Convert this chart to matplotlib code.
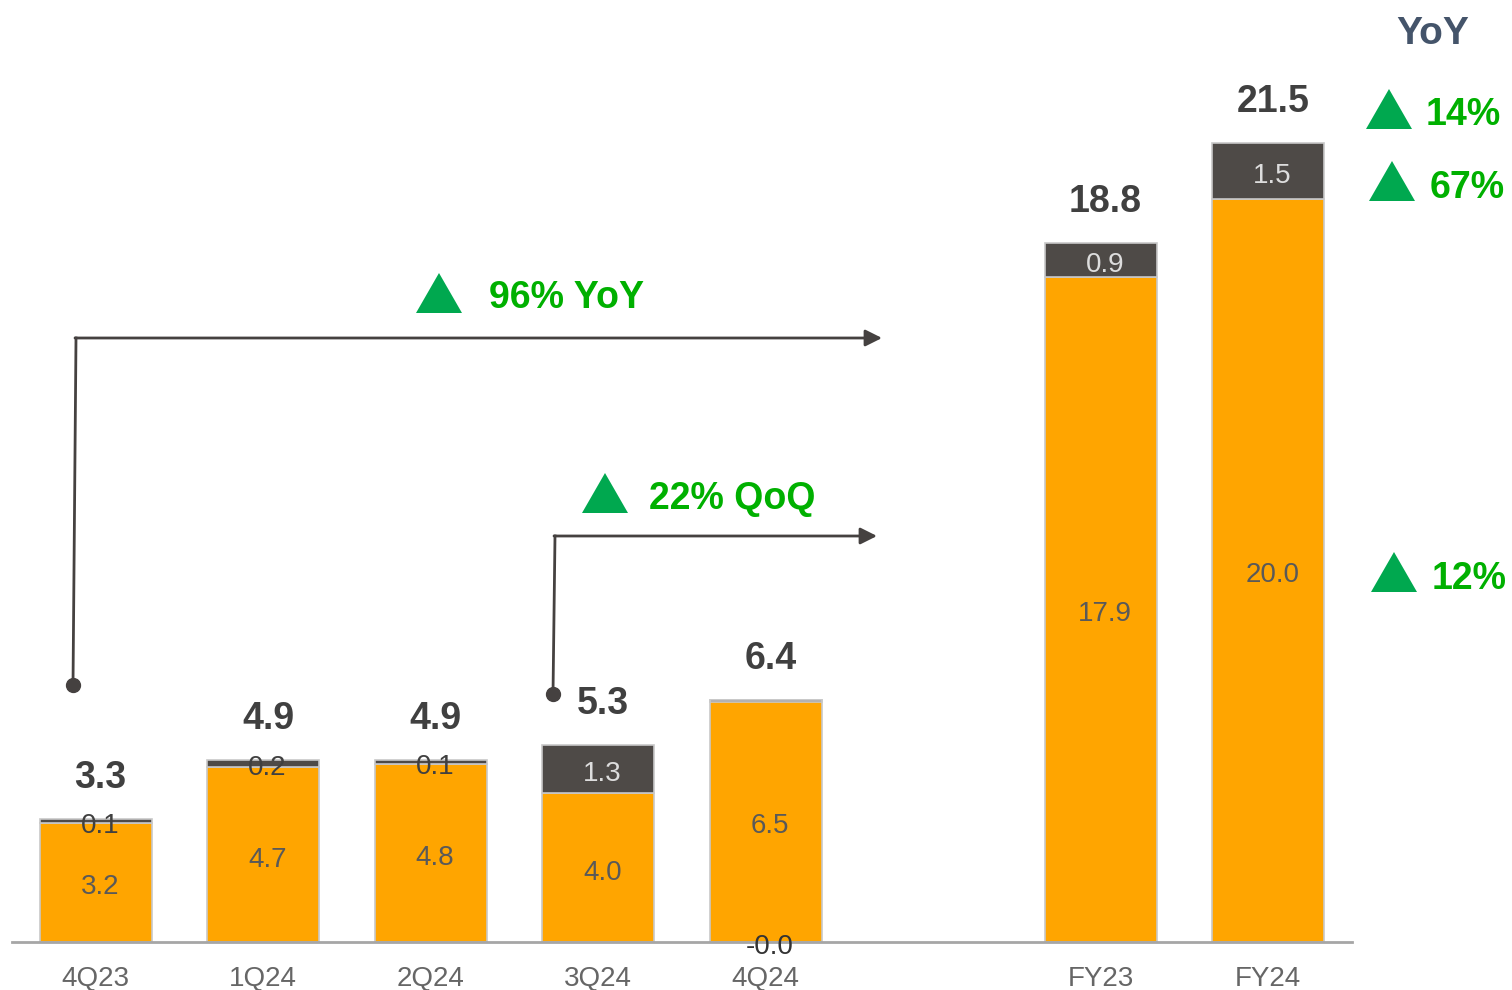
import matplotlib
matplotlib.use("Agg")
import matplotlib.pyplot as plt
from matplotlib.patches import Polygon
import numpy as np

plt.rcParams['font.family'] = ['Liberation Sans', 'DejaVu Sans']

# ---- data ----
categories = ["4Q23", "1Q24", "2Q24", "3Q24", "4Q24", "FY23", "FY24"]
positions = [0, 1, 2, 3, 4, 6, 7]
orange_vals = [3.2, 4.7, 4.8, 4.0, 6.5, 17.9, 20.0]
gray_vals = [0.1, 0.2, 0.1, 1.3, -0.04, 0.9, 1.5]
totals = [3.3, 4.9, 4.9, 5.3, 6.4, 18.8, 21.5]
yoy_labels = ["14%", "67%", "12%"]
qoq_label = "22% QoQ"
yoy_q_label = "96% YoY"

ORANGE = "#FFA500"
DARK = "#4E4A47"
EDGE = "#C8C8C8"
GREEN_TXT = "#00B000"
GREEN_TRI = "#00A84F"
W, H = 1512, 990

fig = plt.figure(figsize=(W / 100, H / 100), dpi=100)
ax = fig.add_axes([12 / W, (H - 942) / H, 1340 / W, 942 / H])
ax.set_xlim(-0.5, 7.5)
ax.set_ylim(0, 942 / 37.16)

bw = 0.67
ax.bar(positions, orange_vals, width=bw, color=ORANGE, edgecolor=EDGE, linewidth=1.2, zorder=2)
ax.bar(positions, gray_vals, width=bw, bottom=orange_vals, color=DARK, edgecolor=EDGE, linewidth=1.2, zorder=2)

SEG_FS = 20
DX = 3
for x, o, g, t in zip(positions, orange_vals, gray_vals, totals):
    ax.annotate(f"{o:.1f}", xy=(x, o / 2), xytext=(DX, -3.5), textcoords="offset points",
                ha="center", va="center", fontsize=SEG_FS, color="#595959", zorder=4)
    if abs(g) < 0.05:
        gy = 0.0
        col = "#333333"
    else:
        gy = o + g / 2
        col = "#404040" if abs(g) < 0.5 else "#DDDDDD"
    ax.annotate(f"{g:.1f}", xy=(x, gy), xytext=(DX, -3.5), textcoords="offset points",
                ha="center", va="center", fontsize=SEG_FS, color=col, zorder=4)
    top = o + max(g, 0)
    ax.annotate(f"{t:.1f}", xy=(x, top), xytext=(DX + 0.5, 29.5), textcoords="offset points",
                ha="center", va="center", fontsize=27, fontweight="bold", color="#404040", zorder=4)

ax.set_xticks(positions)
ax.set_xticklabels(categories, fontsize=20, color="#666666")
ax.tick_params(axis="x", length=0, pad=17)
ax.set_yticks([])
for s in ["top", "right", "left"]:
    ax.spines[s].set_visible(False)
ax.spines["bottom"].set_color("#A6A6A6")
ax.spines["bottom"].set_linewidth(2)
ax.set_facecolor("none")

# ---- overlay in pixel coordinates for annotations ----
ov = fig.add_axes([0, 0, 1, 1], zorder=5)
ov.set_xlim(0, W)
ov.set_ylim(H, 0)
ov.axis("off")
ov.set_facecolor("none")

def tri(cx, cy, w=46, h=40):
    ov.add_patch(Polygon([(cx - w / 2, cy + h / 2), (cx + w / 2, cy + h / 2), (cx, cy - h / 2)],
                         closed=True, color=GREEN_TRI, lw=0))

def green(x, y, s):
    ov.text(x, y + 3, s, ha="left", va="center", fontsize=27, fontweight="bold", color=GREEN_TXT)

LINE = "#454140"
# 96% YoY arrow
ov.plot([73, 76], [685, 338], color=LINE, lw=2)
ov.plot([73], [685], "o", color=LINE, ms=10)
ov.annotate("", xy=(882, 338), xytext=(75, 338),
            arrowprops=dict(arrowstyle="-|>", color=LINE, lw=2, mutation_scale=25, shrinkA=0, shrinkB=0))
tri(439, 293)
green(489, 295, yoy_q_label)

# 22% QoQ arrow
ov.plot([553, 555], [694, 536], color=LINE, lw=2)
ov.plot([553], [694], "o", color=LINE, ms=10)
ov.annotate("", xy=(877, 536), xytext=(554, 536),
            arrowprops=dict(arrowstyle="-|>", color=LINE, lw=2, mutation_scale=25, shrinkA=0, shrinkB=0))
tri(605, 493)
green(649, 496, qoq_label)

# right-side YoY column
ov.text(1433, 34, "YoY", ha="center", va="center", fontsize=28, fontweight="bold", color="#44546A")
tri(1389, 109)
green(1426, 112, yoy_labels[0])
tri(1392, 181)
green(1430, 185, yoy_labels[1])
tri(1394, 572)
green(1432, 576, yoy_labels[2])

fig.savefig("out.png", dpi=100)
